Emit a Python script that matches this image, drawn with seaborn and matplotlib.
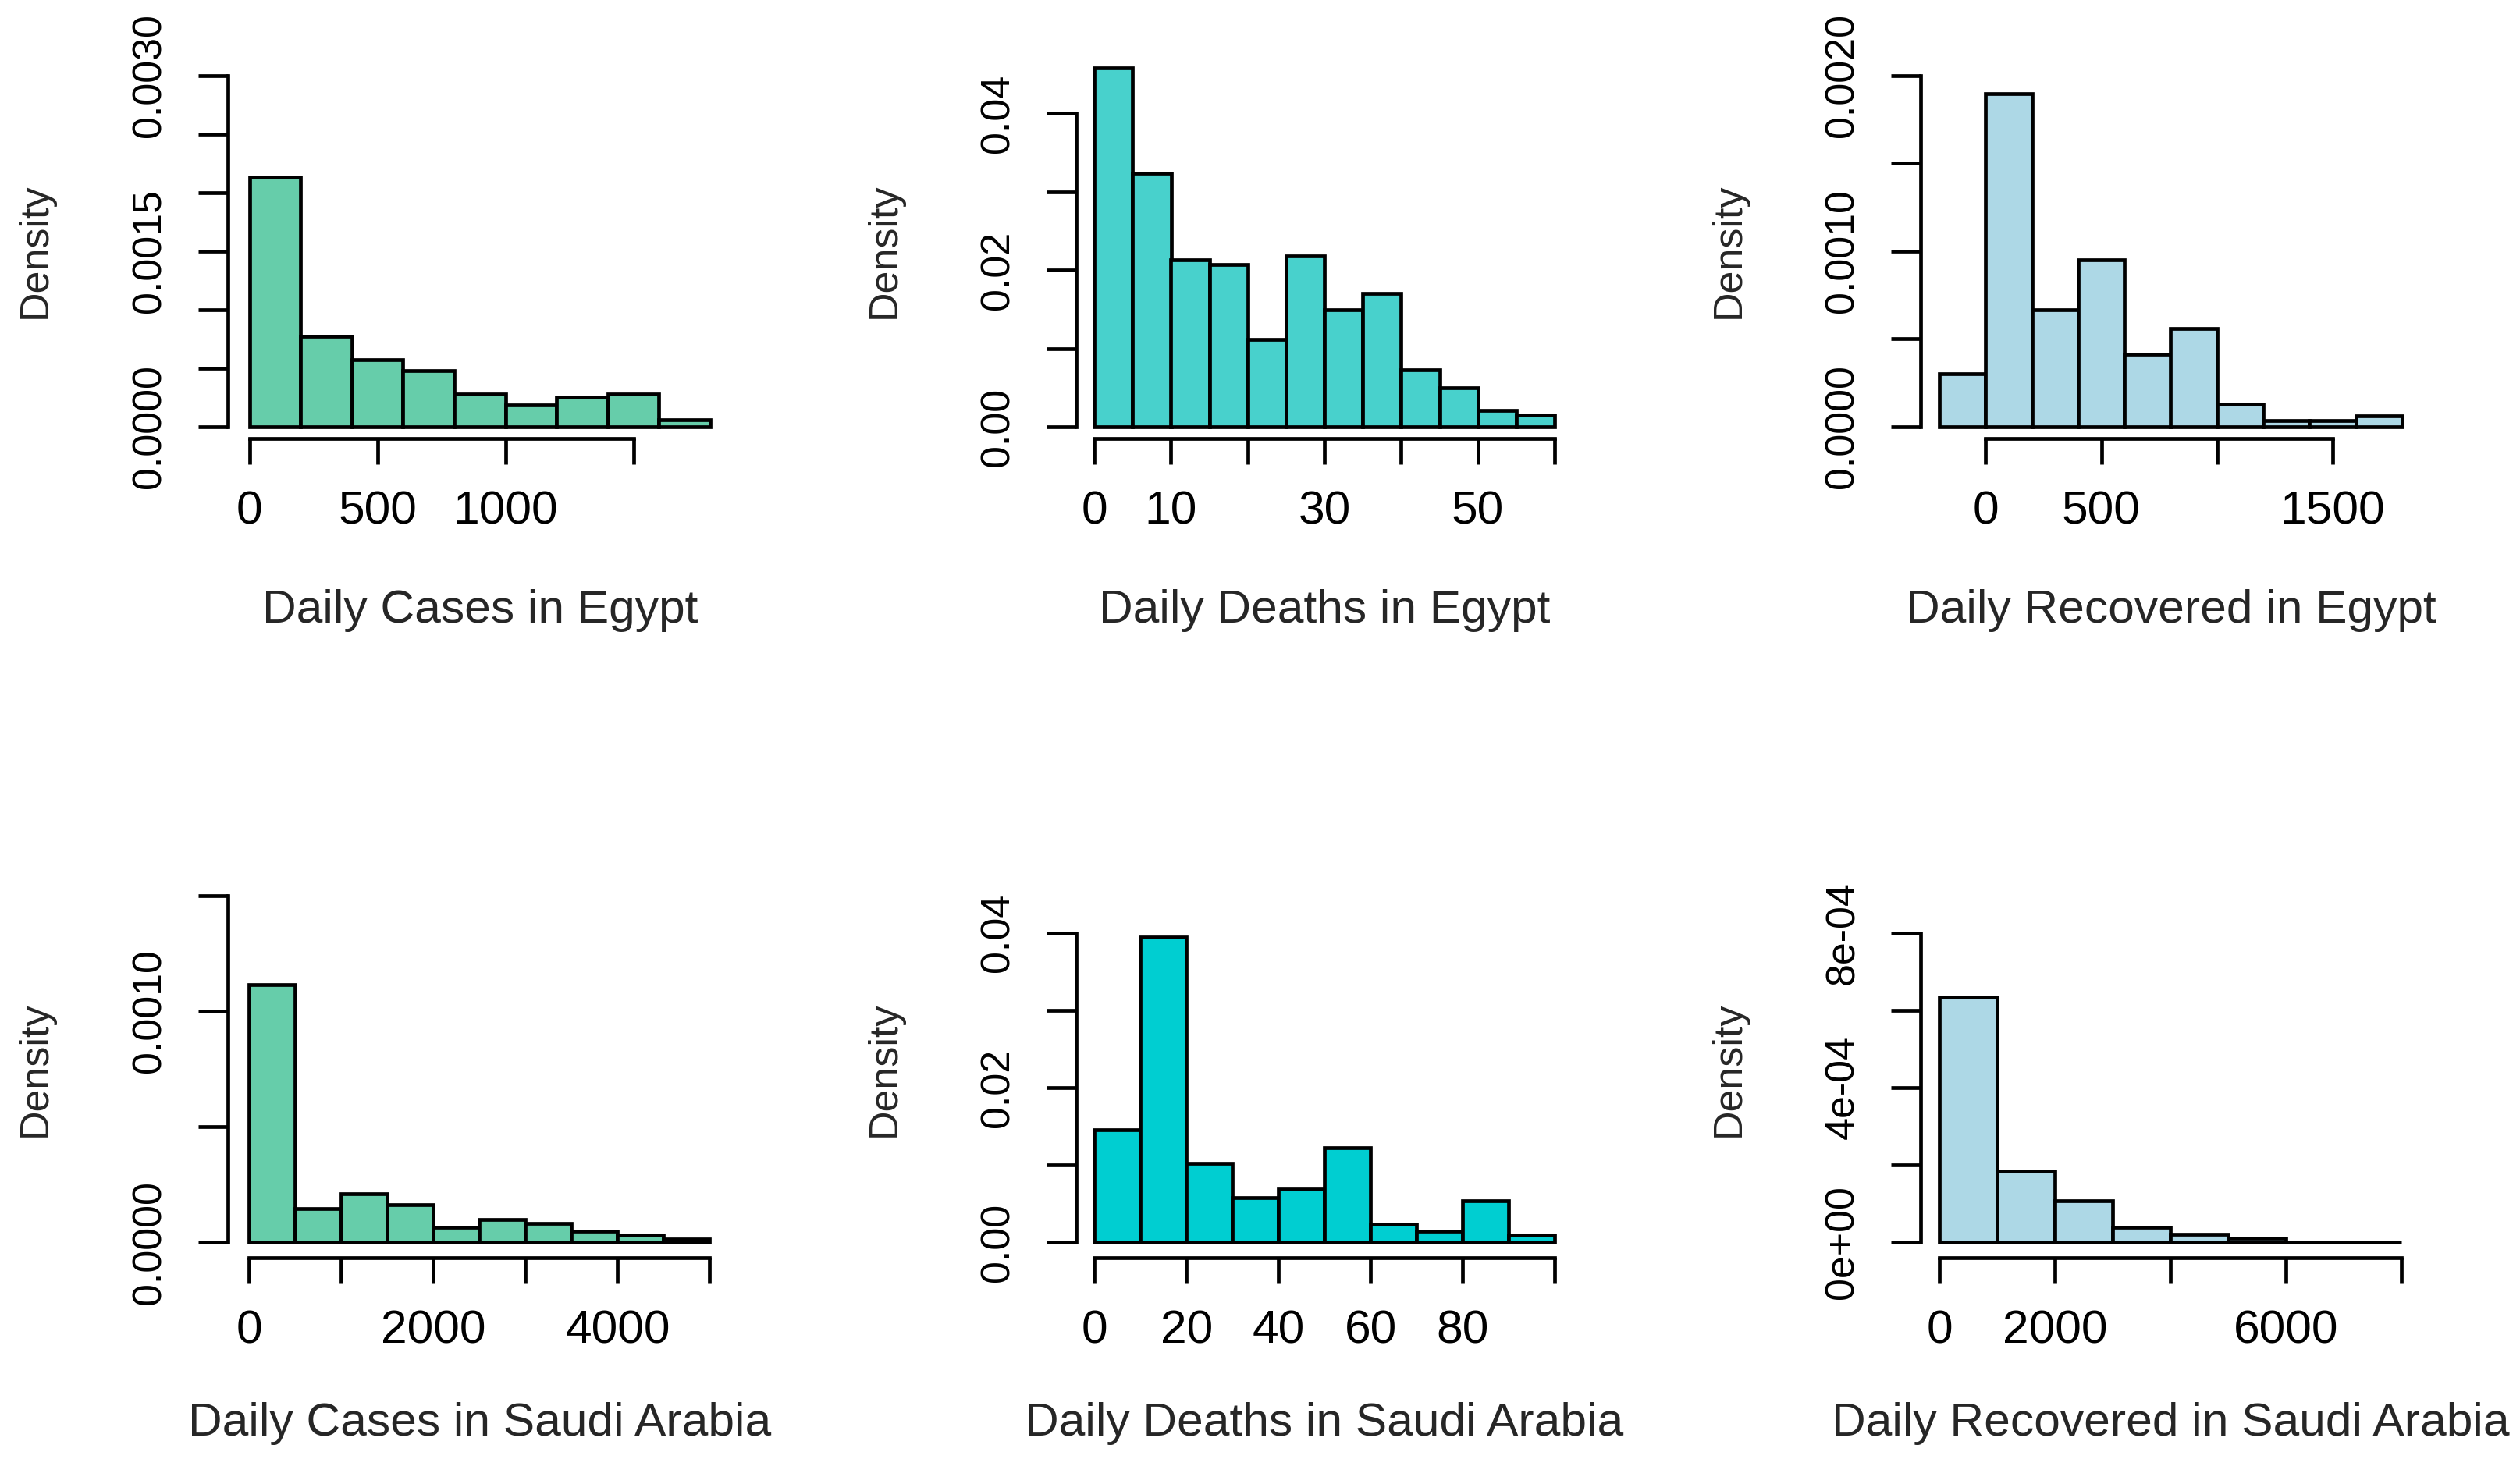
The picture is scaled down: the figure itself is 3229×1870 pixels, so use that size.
import numpy as np
import pandas as pd
import matplotlib
matplotlib.use("Agg")
import matplotlib.pyplot as plt
import seaborn as sns

# ---------------- data (densities) ----------------
egypt_cases_bins = [0, 200, 400, 600, 800, 1000, 1200, 1400, 1600, 1800]
egypt_cases_density = [0.00213, 0.000772, 0.000572, 0.000478, 0.000283,
                       0.000185, 0.000254, 0.000283, 0.000058]

egypt_deaths_bins = [0, 5, 10, 15, 20, 25, 30, 35, 40, 45, 50, 55, 60]
egypt_deaths_density = [0.0458, 0.03235, 0.0213, 0.02075, 0.01116, 0.02178,
                        0.01493, 0.01698, 0.00728, 0.00496, 0.00205, 0.00146]

egypt_recovered_bins = [-200, 0, 200, 400, 600, 800, 1000, 1200, 1400, 1600, 1800]
egypt_recovered_density = [0.000302, 0.001896, 0.000664, 0.000949, 0.000411,
                           0.000560, 0.000128, 0.000036, 0.000036, 0.000063]

saudi_cases_bins = [0, 500, 1000, 1500, 2000, 2500, 3000, 3500, 4000, 4500, 5000]
saudi_cases_density = [0.001115, 0.000146, 0.000211, 0.000162, 0.0000656,
                       0.0000984, 0.000082, 0.0000492, 0.0000328, 0.0000148]

saudi_deaths_bins = [0, 10, 20, 30, 40, 50, 60, 70, 80, 90, 100]
saudi_deaths_density = [0.0146, 0.03946, 0.01025, 0.00579, 0.00688, 0.01223,
                        0.00233, 0.00149, 0.0054, 0.00094]

saudi_recovered_bins = [0, 1000, 2000, 3000, 4000, 5000, 6000, 7000, 8000]
saudi_recovered_density = [0.000634, 0.000185, 0.000108, 0.0000386,
                           0.0000198, 0.0000099, 0.0, 0.0]

x_titles = ["Daily Cases in Egypt", "Daily Deaths in Egypt", "Daily Recovered in Egypt",
            "Daily Cases in Saudi Arabia", "Daily Deaths in Saudi Arabia",
            "Daily Recovered in Saudi Arabia"]
y_title = "Density"

x_ticks = [[0, 500, 1000, 1500],
           [0, 10, 20, 30, 40, 50, 60],
           [0, 500, 1000, 1500],
           [0, 1000, 2000, 3000, 4000, 5000],
           [0, 20, 40, 60, 80, 100],
           [0, 2000, 4000, 6000, 8000]]
x_tick_labels = [["0", "500", "1000", ""],
                 ["0", "10", "", "30", "", "50", ""],
                 ["0", "500", "", "1500"],
                 ["0", "", "2000", "", "4000", ""],
                 ["0", "20", "40", "60", "80", ""],
                 ["0", "2000", "", "6000", ""]]
y_ticks = [[0, 0.0005, 0.0010, 0.0015, 0.0020, 0.0025, 0.0030],
           [0, 0.01, 0.02, 0.03, 0.04],
           [0, 0.0005, 0.0010, 0.0015, 0.0020],
           [0, 0.0005, 0.0010, 0.0015],
           [0, 0.01, 0.02, 0.03, 0.04],
           [0, 0.0002, 0.0004, 0.0006, 0.0008]]
y_tick_labels = [["0.0000", "", "", "0.0015", "", "", "0.0030"],
                 ["0.00", "", "0.02", "", "0.04"],
                 ["0.0000", "", "0.0010", "", "0.0020"],
                 ["0.0000", "", "0.0010", ""],
                 ["0.00", "", "0.02", "", "0.04"],
                 ["0e+00", "", "4e-04", "", "8e-04"]]

# ---------------- styling / layout (pixels of the 3230x1870 canvas) ----------------
colors = ["#66CDAA", "#48D1CC", "#ADD8E6", "#66CDAA", "#00CED1", "#ADD8E6"]

W, H, DPI = 3230, 1870, 100
PX = 72.0 / DPI   # points per pixel

yaxis_px = [291.7, 1379.0, 2461.3]          # x of the y-axis line, per column
xaxis_px = [562.0, 1612.0]                  # y of the x-axis line, per row
zero_px = [547.0, 1592.3]                   # y of density 0, per row
first_edge_px = [319.7, 1402.2, 2485.0, 319.5, 1402.2, 2485.0]
last_edge_px = [909.9, 1992.0, 3078.0, 909.5, 1992.0, 3077.0]
top_tick_px = [96.6, 145.1, 96.6, 1147.5, 1195.6, 1195.6]
xtitle_y = [782, 1825]

sns.set_style("white")
plt.rcParams["font.family"] = ["Liberation Sans", "DejaVu Sans"]

H_FS = 60.5 * PX   # horizontal text size
V_FS = 52 * PX     # vertical text size
LW = 4.7 * PX
XTICK_LEN = 33 * PX
YTICK_LEN = 38 * PX

fig = plt.figure(figsize=(W / DPI, H / DPI), dpi=DPI, facecolor="white")

panels = [
    (egypt_cases_bins, egypt_cases_density),
    (egypt_deaths_bins, egypt_deaths_density),
    (egypt_recovered_bins, egypt_recovered_density),
    (saudi_cases_bins, saudi_cases_density),
    (saudi_deaths_bins, saudi_deaths_density),
    (saudi_recovered_bins, saudi_recovered_density),
]

for i, (bins, dens) in enumerate(panels):
    r, c = divmod(i, 3)
    edges = [float(e) for e in bins]

    # pixel geometry of this panel
    L = yaxis_px[c]
    B = xaxis_px[r]
    Rr = last_edge_px[i] + 24
    ytop_val = y_ticks[i][-1]
    sy = (zero_px[r] - top_tick_px[i]) / ytop_val           # px per density unit
    tallest_px = zero_px[r] - max(dens) * sy
    T = min(top_tick_px[i], tallest_px) - 20

    sx = (last_edge_px[i] - first_edge_px[i]) / (edges[-1] - edges[0])
    xlim = (edges[0] - (first_edge_px[i] - L) / sx,
            edges[-1] + (Rr - last_edge_px[i]) / sx)
    ylim = (-(B - zero_px[r]) / sy, (zero_px[r] - T) / sy)

    ax = fig.add_axes([L / W, 1 - B / H, (Rr - L) / W, (B - T) / H])
    ax.patch.set_visible(False)

    centers = [(a + b) / 2 for a, b in zip(edges[:-1], edges[1:])]
    df = pd.DataFrame({"value": centers, "density": dens})
    sns.histplot(data=df, x="value", weights="density", bins=edges, stat="count",
                 color=colors[i], alpha=1.0, edgecolor="black", linewidth=LW, ax=ax)
    for p in ax.patches:
        p.set_linewidth(LW)
        p.set_edgecolor("black")
        p.set_joinstyle("miter")

    ax.set_xlim(*xlim)
    ax.set_ylim(*ylim)
    ax.set_xlabel("")
    ax.set_ylabel("")
    for s in ["top", "right"]:
        ax.spines[s].set_visible(False)
    for s in ["bottom", "left"]:
        ax.spines[s].set_linewidth(LW)
        ax.spines[s].set_color("black")
        ax.spines[s].set_capstyle("projecting")
    ax.spines["bottom"].set_bounds(x_ticks[i][0], x_ticks[i][-1])
    ax.spines["left"].set_bounds(y_ticks[i][0], y_ticks[i][-1])

    ax.set_xticks(x_ticks[i])
    ax.set_xticklabels(x_tick_labels[i], fontsize=H_FS)
    ax.set_yticks(y_ticks[i])
    ax.set_yticklabels(y_tick_labels[i], fontsize=V_FS, rotation=90)
    ax.tick_params(axis="both", which="major", direction="out", width=LW,
                   colors="black", bottom=True, left=True, top=False, right=False)
    ax.tick_params(axis="x", length=XTICK_LEN, pad=(93.5 - 33) * PX)
    ax.tick_params(axis="y", length=YTICK_LEN, pad=(100 - 38) * PX)
    for t in ax.get_xticklabels():
        t.set_va("center")
    for t in ax.get_yticklabels():
        t.set_ha("center")
        t.set_va("center")

    # axis titles
    xc = (first_edge_px[i] + last_edge_px[i]) / 2
    yc = (zero_px[r] + top_tick_px[3 * r]) / 2
    fig.text(xc / W, 1 - xtitle_y[r] / H, x_titles[i],
             ha="center", va="center", fontsize=H_FS)
    fig.text((L - 246) / W, 1 - yc / H, y_title, rotation=90,
             ha="center", va="center", fontsize=V_FS)

fig.savefig("out.png", dpi=DPI, facecolor="white")
